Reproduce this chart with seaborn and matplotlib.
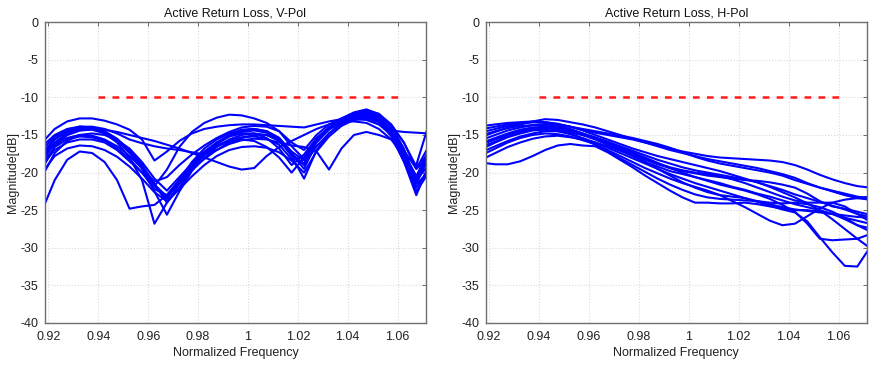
import matplotlib
matplotlib.use("Agg")
import matplotlib.pyplot as plt
import pandas as pd
import seaborn as sns

# common frequency grid (normalized)
freq = [0.9175, 0.9225, 0.9275, 0.9325, 0.9375, 0.9425, 0.9475, 0.9525, 0.9575, 0.9625,
        0.9675, 0.9725, 0.9775, 0.9825, 0.9875, 0.9925, 0.9975, 1.0025, 1.0075, 1.0125,
        1.0175, 1.0225, 1.0275, 1.0325, 1.0375, 1.0425, 1.0475, 1.0525, 1.0575, 1.0625,
        1.0675, 1.0725]

# active return loss, V-Pol [dB]
v_pol = [
    [-16.0, -14.2, -13.2, -12.8, -12.8, -13.1, -13.6, -14.3, -15.6, -18.4, -17.2, -15.8, -14.8, -14.2, -13.9, -13.7,
     -13.6, -13.6, -13.7, -13.8, -13.9, -14.0, -13.6, -13.2, -12.9, -12.8, -13.0, -13.6, -14.4, -14.6, -14.7, -14.8],
    [-17.5, -15.5, -14.4, -13.9, -13.9, -14.2, -14.8, -15.6, -16.1, -16.5, -16.8, -17.0, -17.3, -17.6, -17.0, -16.0,
     -15.4, -15.0, -15.0, -15.6, -17.5, -19.0, -16.5, -14.8, -13.6, -12.9, -12.6, -13.2, -14.8, -17.5, -20.5, -18.5],
    [-25.0, -21.0, -18.3, -17.2, -17.4, -18.6, -21.0, -24.8, -24.5, -24.3, -23.0, -21.0, -19.0, -17.5, -16.5, -15.9,
     -15.6, -15.8, -16.6, -18.0, -20.0, -18.0, -15.6, -14.2, -13.3, -12.8, -12.7, -13.3, -15.0, -18.5, -22.0, -19.5],
    [-19.5, -16.5, -15.0, -14.4, -14.3, -14.8, -16.0, -18.0, -21.0, -26.8, -24.0, -21.5, -19.2, -17.4, -16.0, -15.0,
     -14.4, -14.2, -14.5, -15.4, -17.5, -19.5, -16.0, -14.3, -13.2, -12.4, -12.0, -12.6, -14.2, -17.0, -21.0, -19.0],
    [-18.5, -16.0, -14.8, -14.2, -14.2, -14.6, -15.6, -17.2, -19.5, -22.5, -25.6, -22.5, -19.8, -18.0, -16.6, -15.6,
     -15.0, -14.8, -15.0, -15.8, -17.6, -18.8, -15.8, -14.0, -12.8, -12.0, -11.6, -12.2, -13.8, -16.8, -21.5, -18.0],
    [-17.0, -15.2, -14.3, -13.9, -14.0, -14.5, -15.5, -17.0, -19.0, -21.5, -24.0, -22.0, -19.5, -17.6, -16.2, -15.2,
     -14.6, -14.4, -14.7, -15.6, -17.8, -20.8, -17.0, -14.8, -13.4, -12.6, -12.2, -12.8, -14.6, -17.8, -22.5, -20.0],
    [-20.5, -17.4, -15.8, -15.0, -14.8, -15.0, -15.7, -16.8, -18.6, -20.8, -22.4, -20.6, -18.8, -17.2, -16.0, -15.2,
     -14.8, -14.8, -15.4, -16.8, -19.0, -17.6, -15.4, -14.0, -13.2, -12.6, -12.4, -13.0, -14.6, -17.4, -20.5, -17.0],
    [-18.0, -16.2, -15.4, -15.0, -15.1, -15.6, -16.5, -17.8, -19.4, -21.2, -20.6, -19.0, -17.6, -16.4, -15.4, -14.6,
     -14.0, -13.8, -13.9, -14.5, -16.0, -17.0, -15.0, -13.6, -12.8, -12.2, -11.9, -12.4, -13.8, -16.0, -19.2, -17.5],
    [-17.8, -16.0, -15.0, -14.4, -14.2, -14.3, -14.6, -15.0, -15.4, -15.8, -16.3, -16.8, -17.4, -18.0, -18.6, -19.2,
     -19.6, -19.4, -17.8, -16.6, -15.8, -15.0, -14.2, -13.6, -13.3, -13.2, -13.4, -14.2, -15.6, -18.0, -21.5, -20.0],
    [-19.0, -17.0, -16.0, -15.6, -15.6, -16.0, -17.0, -18.5, -20.0, -21.6, -23.2, -21.4, -19.6, -18.2, -17.0, -16.2,
     -15.7, -15.5, -15.6, -16.0, -16.4, -16.6, -17.2, -19.6, -16.8, -15.0, -14.6, -15.0, -15.6, -17.0, -19.5, -18.0],
    [-16.5, -15.0, -14.2, -13.9, -14.0, -14.6, -15.8, -17.4, -19.4, -21.8, -19.6, -16.6, -14.6, -13.4, -12.7, -12.3,
     -12.4, -12.8, -13.4, -14.5, -16.5, -18.2, -15.6, -14.0, -12.9, -12.2, -11.8, -12.2, -13.6, -16.0, -19.5, -16.5],
    [-17.6, -15.6, -14.6, -14.1, -14.1, -14.6, -15.6, -17.0, -19.0, -21.8, -23.5, -21.0, -18.6, -16.8, -15.6, -14.8,
     -14.3, -14.2, -14.5, -15.4, -17.2, -18.4, -15.8, -14.2, -13.2, -12.6, -12.4, -13.2, -15.2, -18.5, -23.0, -19.0],
    [-20.0, -17.8, -16.8, -16.4, -16.5, -17.0, -17.9, -19.2, -20.8, -22.6, -23.8, -22.2, -20.5, -19.0, -17.8, -17.0,
     -16.6, -16.5, -16.7, -17.3, -18.4, -20.0, -17.2, -15.2, -13.8, -13.0, -12.6, -13.2, -14.8, -17.5, -19.0, -13.6],
    [-18.8, -16.6, -15.6, -15.2, -15.3, -15.8, -16.8, -18.2, -20.0, -22.2, -23.0, -21.0, -19.0, -17.5, -16.4, -15.7,
     -15.3, -15.2, -15.5, -16.3, -18.2, -18.0, -15.8, -14.2, -13.4, -13.0, -12.9, -13.6, -15.0, -17.8, -21.0, -17.5],
]

# active return loss, H-Pol [dB]
h_pol = [
    [-13.8, -13.6, -13.4, -13.3, -13.2, -13.3, -13.6, -13.9, -14.3, -14.7, -15.0, -15.3, -15.6, -16.0, -16.4, -16.8,
     -17.2, -17.5, -17.8, -18.0, -18.1, -18.2, -18.3, -18.4, -18.6, -19.0, -19.6, -20.3, -20.9, -21.4, -21.8, -22.0],
    [-15.2, -14.6, -14.0, -13.6, -13.2, -12.9, -13.0, -13.3, -13.6, -14.0, -14.5, -15.0, -15.5, -16.0, -16.5, -17.0,
     -17.4, -17.8, -18.2, -18.5, -18.8, -19.1, -19.4, -19.8, -20.2, -20.7, -21.4, -22.0, -22.5, -23.0, -23.4, -23.6],
    [-18.7, -18.9, -18.9, -18.5, -17.8, -17.0, -16.4, -16.2, -16.4, -16.5, -17.3, -18.3, -19.3, -20.4, -21.4, -22.4,
     -23.3, -24.0, -24.0, -24.1, -24.1, -24.0, -24.2, -24.5, -24.8, -25.0, -25.0, -25.2, -25.5, -26.0, -26.4, -26.8],
    [-17.6, -16.8, -16.0, -15.4, -15.0, -14.8, -14.9, -15.2, -15.7, -16.2, -17.0, -17.8, -18.6, -19.4, -20.1, -20.8,
     -21.4, -21.9, -22.4, -23.0, -23.8, -24.6, -25.5, -26.4, -27.0, -26.8, -25.8, -24.8, -24.0, -23.6, -23.4, -23.2],
    [-16.8, -16.0, -15.3, -14.8, -14.4, -14.3, -14.5, -14.9, -15.4, -16.0, -16.7, -17.4, -18.1, -18.8, -19.5, -20.2,
     -20.8, -21.4, -21.9, -22.4, -22.9, -23.4, -23.9, -24.4, -24.9, -25.3, -26.5, -28.6, -30.6, -32.4, -32.5, -30.0],
    [-16.2, -15.6, -15.0, -14.5, -14.1, -13.9, -14.0, -14.3, -14.8, -15.3, -15.9, -16.6, -17.3, -18.0, -18.7, -19.4,
     -20.0, -20.6, -21.1, -21.6, -22.0, -22.4, -22.9, -23.5, -24.3, -25.2, -26.8, -28.8, -29.0, -28.9, -28.8, -28.2],
    [-15.6, -15.0, -14.4, -14.0, -13.7, -13.6, -13.8, -14.2, -14.8, -15.4, -16.2, -17.0, -17.8, -18.6, -19.2, -19.8,
     -20.2, -20.6, -21.0, -21.4, -21.9, -22.3, -22.8, -23.2, -23.7, -24.2, -24.6, -25.0, -25.5, -26.2, -27.0, -27.4],
    [-17.2, -16.5, -15.8, -15.2, -14.8, -14.5, -14.5, -14.7, -15.0, -15.4, -15.9, -16.5, -17.1, -17.7, -18.3, -18.8,
     -19.3, -19.7, -20.0, -20.3, -20.6, -20.9, -21.3, -21.8, -22.3, -22.9, -23.4, -23.9, -24.4, -24.9, -25.5, -25.9],
    [-16.0, -15.4, -14.8, -14.3, -14.0, -14.0, -14.3, -14.8, -15.5, -16.3, -17.2, -18.1, -19.0, -19.9, -20.8, -21.6,
     -22.3, -22.9, -23.3, -23.5, -23.6, -23.7, -23.8, -24.0, -24.1, -24.0, -24.2, -24.6, -25.2, -26.0, -27.0, -27.8],
    [-14.6, -14.2, -13.8, -13.5, -13.3, -13.3, -13.5, -13.9, -14.4, -15.0, -15.6, -16.2, -16.8, -17.3, -17.8, -18.2,
     -18.6, -19.0, -19.4, -19.8, -20.3, -20.8, -21.3, -21.9, -22.6, -23.3, -24.1, -25.0, -26.2, -27.5, -28.8, -30.0],
    [-18.2, -17.4, -16.6, -16.0, -15.5, -15.2, -15.1, -15.3, -15.6, -16.0, -16.5, -17.1, -17.7, -18.3, -18.9, -19.4,
     -19.8, -20.1, -20.4, -20.6, -20.8, -21.0, -21.1, -21.3, -21.6, -22.0, -22.8, -23.8, -24.5, -24.8, -25.2, -25.6],
    [-15.0, -14.5, -14.1, -13.8, -13.7, -13.8, -14.1, -14.5, -15.0, -15.6, -16.3, -17.0, -17.8, -18.6, -19.5, -20.4,
     -21.3, -22.0, -22.6, -23.0, -23.2, -23.4, -23.8, -24.2, -24.6, -24.9, -25.1, -25.3, -25.5, -25.7, -25.9, -26.0],
    [-16.5, -15.9, -15.2, -14.7, -14.3, -14.1, -14.2, -14.5, -15.0, -15.5, -16.1, -16.8, -17.5, -18.2, -18.8, -19.3,
     -19.7, -20.0, -20.2, -20.5, -20.9, -21.4, -22.0, -22.6, -23.2, -23.7, -24.0, -24.0, -24.0, -24.5, -25.5, -26.5],
    [-14.2, -13.9, -13.6, -13.4, -13.3, -13.4, -13.6, -13.9, -14.2, -14.5, -14.8, -15.1, -15.4, -15.8, -16.2, -16.7,
     -17.3, -17.9, -18.4, -18.8, -19.1, -19.4, -19.7, -20.0, -20.4, -21.0, -21.5, -22.0, -22.4, -22.8, -23.2, -23.4],
]

# -10 dB spec line
limit_freq = [0.94, 1.06]
limit_db = [-10, -10]

x_ticks = [0.92, 0.94, 0.96, 0.98, 1.0, 1.02, 1.04, 1.06]
x_tick_labels = ["0.92", "0.94", "0.96", "0.98", "1", "1.02", "1.04", "1.06"]
y_ticks = [0, -5, -10, -15, -20, -25, -30, -35, -40]


def to_long(curves):
    rows = []
    for i, c in enumerate(curves):
        rows.append(pd.DataFrame({"freq": freq, "mag": c, "curve": i}))
    return pd.concat(rows, ignore_index=True)


sns.set_style("white")
plt.rcParams["font.family"] = ["Liberation Sans", "DejaVu Sans"]
plt.rcParams["axes.unicode_minus"] = False

fig = plt.figure(figsize=(8.82, 3.66), dpi=100)
ax_v = fig.add_axes([0.051, 0.1175, 0.432, 0.822])
ax_h = fig.add_axes([0.5505, 0.1175, 0.4325, 0.822])

panels = [(ax_v, v_pol, "Active Return Loss, V-Pol"),
          (ax_h, h_pol, "Active Return Loss, H-Pol")]

for ax, curves, title in panels:
    sns.lineplot(data=to_long(curves), x="freq", y="mag", units="curve", estimator=None,
                 color="#0000ff", lw=1.5, ax=ax, legend=False)
    # dash pattern chosen so the line starts and ends on a dash
    sns.lineplot(x=limit_freq, y=limit_db, color="#ff1a1a", lw=1.8, ax=ax,
                 linestyle=(0, (2.68, 2.9)), legend=False)
    ax.set_xlim(0.9186, 1.0714)
    ax.set_ylim(-40, 0)
    ax.set_xticks(x_ticks)
    ax.set_xticklabels(x_tick_labels)
    ax.set_yticks(y_ticks)
    ax.grid(True, color="#dadada", linestyle=":", lw=0.8)
    ax.tick_params(axis="both", which="both", direction="in", length=3, width=0.6,
                   color="#555555", labelcolor="#222222", labelsize=9, top=True, right=True)
    ax.tick_params(axis="x", pad=6)
    ax.tick_params(axis="y", pad=4.5)
    for s in ax.spines.values():
        s.set_visible(True)
        s.set_color("#707070")
        s.set_linewidth(1.0)
    ax.set_title(title, fontsize=9, pad=4, color="#111111")
    ax.set_xlabel("Normalized Frequency", fontsize=9, labelpad=3, color="#222222")
    ax.set_ylabel("Magnitude[dB]", fontsize=9, labelpad=1, color="#222222")

fig.savefig("out.png", dpi=100)
